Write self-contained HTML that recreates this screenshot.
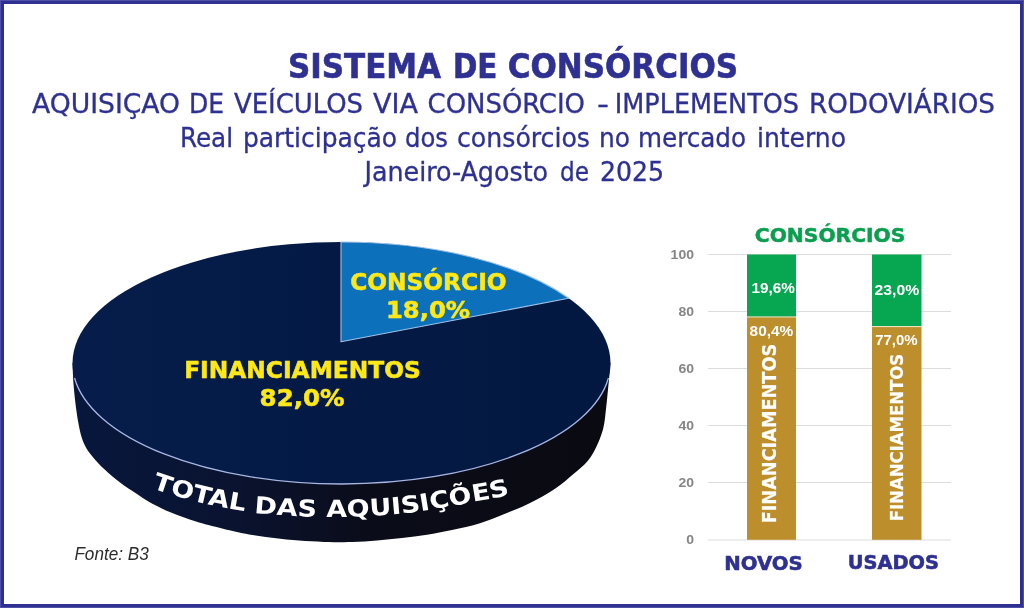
<!DOCTYPE html>
<html lang="pt"><head><meta charset="utf-8"><title>Sistema de Consórcios</title>
<style>
html,body{margin:0;padding:0;background:#fff;}
body{width:1024px;height:608px;overflow:hidden;}
svg{display:block;}
.t{font-family:"DejaVu Sans Condensed","DejaVu Sans","Liberation Sans",sans-serif;fill:#2e3192;}
.tb{font-family:"DejaVu Sans Condensed","DejaVu Sans","Liberation Sans",sans-serif;font-weight:bold;fill:#2e3192;}
.v{font-family:"DejaVu Sans","Liberation Sans",sans-serif;font-weight:bold;}
.y{fill:#ffe818;stroke:#ffe818;stroke-width:0.5px;}
.c{font-family:"Liberation Sans","DejaVu Sans",sans-serif;font-weight:bold;}
</style></head><body>
<svg width="1024" height="608" viewBox="0 0 1024 608">
<defs>
<linearGradient id="sg" x1="72" y1="0" x2="611" y2="0" gradientUnits="userSpaceOnUse">
<stop offset="0" stop-color="#07173d"/><stop offset="0.3" stop-color="#0a1330"/><stop offset="0.55" stop-color="#0a0c19"/><stop offset="1" stop-color="#0a0b11"/>
</linearGradient>
<linearGradient id="tg" x1="72" y1="0" x2="611" y2="0" gradientUnits="userSpaceOnUse">
<stop offset="0" stop-color="#061d4b"/><stop offset="0.5" stop-color="#041a45"/><stop offset="1" stop-color="#031840"/>
</linearGradient>
<path id="tp" d="M120.0 474.0 C123.3 475.5 132.8 480.0 140.0 483.0 C147.2 486.0 153.4 488.8 163.4 492.0 C173.4 495.2 186.4 499.3 200.0 502.5 C213.6 505.7 234.4 509.4 245.2 511.2 C256.1 513.1 255.0 512.9 265.0 513.8 C275.0 514.6 293.9 516.0 305.0 516.5 C316.1 517.0 323.7 517.0 331.5 517.0 C339.3 517.0 345.1 517.0 352.0 516.8 C358.9 516.6 366.1 516.2 372.6 515.8 C379.1 515.4 385.0 515.0 390.8 514.6 C396.5 514.2 401.6 513.7 407.0 513.1 C412.4 512.5 417.6 511.8 423.0 511.0 C428.4 510.2 433.7 509.1 439.5 508.1 C445.3 507.1 451.8 506.1 458.0 505.0 C464.2 503.9 470.8 502.4 477.0 501.2 C483.2 500.1 487.8 499.5 495.0 498.0 C502.2 496.5 512.5 494.0 520.0 492.0 C527.5 490.0 536.7 487.0 540.0 486.0"/>
</defs>
<rect x="0" y="0" width="1024" height="608" fill="#fff"/>
<rect x="2" y="2" width="1020" height="604" fill="none" stroke="#2f2e91" stroke-width="4"/>
<rect x="0.5" y="0.5" width="1023" height="607" fill="none" stroke="#5050aa" stroke-width="1"/>

<!-- titles -->
<text class="tb" y="77.5" font-size="34" stroke="#2e3192" stroke-width="0.6"><tspan x="288" textLength="153" lengthAdjust="spacingAndGlyphs">SISTEMA</tspan> <tspan x="453" textLength="44.4" lengthAdjust="spacingAndGlyphs">DE</tspan> <tspan x="507.8" textLength="230.2" lengthAdjust="spacingAndGlyphs">CONSÓRCIOS</tspan></text>
<text class="t" y="112.5" font-size="26.6" stroke="#2e3192" stroke-width="0.3"><tspan x="32" textLength="148" lengthAdjust="spacingAndGlyphs">AQUISIÇAO</tspan> <tspan x="189" textLength="35" lengthAdjust="spacingAndGlyphs">DE</tspan> <tspan x="234" textLength="129" lengthAdjust="spacingAndGlyphs">VEÍCULOS</tspan> <tspan x="373" textLength="45" lengthAdjust="spacingAndGlyphs">VIA</tspan> <tspan x="427.6" textLength="157.4" lengthAdjust="spacingAndGlyphs">CONSÓRCIO</tspan> <tspan x="597" textLength="12" lengthAdjust="spacingAndGlyphs">-</tspan> <tspan x="614.8" textLength="184.2" lengthAdjust="spacingAndGlyphs">IMPLEMENTOS</tspan> <tspan x="809" textLength="186" lengthAdjust="spacingAndGlyphs">RODOVIÁRIOS</tspan></text>
<text class="t" y="146.7" font-size="26.6" stroke="#2e3192" stroke-width="0.3"><tspan x="180" textLength="53" lengthAdjust="spacingAndGlyphs">Real</tspan> <tspan x="243" textLength="154" lengthAdjust="spacingAndGlyphs">participação</tspan> <tspan x="405" textLength="43" lengthAdjust="spacingAndGlyphs">dos</tspan> <tspan x="457" textLength="133" lengthAdjust="spacingAndGlyphs">consórcios</tspan> <tspan x="599" textLength="31" lengthAdjust="spacingAndGlyphs">no</tspan> <tspan x="638" textLength="108" lengthAdjust="spacingAndGlyphs">mercado</tspan> <tspan x="757" textLength="89" lengthAdjust="spacingAndGlyphs">interno</tspan></text>
<text class="t" y="181.3" font-size="26.6" stroke="#2e3192" stroke-width="0.3"><tspan x="364.5" textLength="183.6" lengthAdjust="spacingAndGlyphs">Janeiro-Agosto</tspan> <tspan x="560" textLength="29" lengthAdjust="spacingAndGlyphs">de</tspan> <tspan x="600" textLength="64" lengthAdjust="spacingAndGlyphs">2025</tspan></text>

<!-- pie -->
<path d="M72.5 363.0 C72.6 365.0 72.8 371.3 73.0 375.0 C73.2 378.7 73.2 380.3 73.6 385.0 C74.0 389.7 74.7 396.9 75.4 403.0 C76.2 409.1 77.0 415.6 78.1 421.4 C79.1 427.2 80.3 433.1 81.7 437.6 C83.1 442.1 84.8 445.5 86.5 448.5 C88.2 451.5 89.9 453.4 91.8 455.8 C93.7 458.2 95.6 460.4 97.8 462.7 C99.9 465.0 102.2 467.3 104.7 469.6 C107.1 471.9 109.7 474.2 112.5 476.5 C115.3 478.8 118.3 481.1 121.4 483.4 C124.5 485.7 127.2 487.5 131.3 490.3 C135.4 493.1 141.5 497.2 146.0 500.0 C150.5 502.8 154.3 504.7 158.5 506.8 C162.7 508.9 166.8 510.9 171.0 512.6 C175.2 514.4 179.3 515.8 183.5 517.3 C187.7 518.8 191.8 520.2 196.0 521.5 C200.2 522.8 203.8 523.8 208.5 525.0 C213.2 526.2 217.2 527.4 224.0 529.0 C230.8 530.6 240.7 532.9 249.0 534.4 C257.3 535.9 265.7 537.1 274.0 538.1 C282.3 539.1 290.7 540.0 299.0 540.6 C307.3 541.2 315.2 541.6 324.0 541.9 C332.8 542.1 343.2 542.3 352.0 542.1 C360.8 541.9 368.7 541.3 377.0 540.6 C385.3 539.9 393.7 539.1 402.0 538.1 C410.3 537.1 418.7 536.1 427.0 534.8 C435.3 533.4 443.2 531.9 452.0 530.0 C460.8 528.1 471.2 526.0 480.0 523.3 C488.8 520.6 496.7 517.1 505.0 513.8 C513.3 510.4 521.7 507.3 530.0 503.1 C538.3 498.9 547.7 493.6 555.0 488.8 C562.3 483.9 568.3 478.4 573.8 473.8 C579.2 469.1 584.0 465.4 587.7 461.0 C591.4 456.6 593.4 452.9 596.0 447.5 C598.6 442.1 601.4 435.3 603.1 428.9 C604.8 422.5 605.2 415.6 606.0 409.0 C606.8 402.4 607.5 394.3 608.0 389.4 C608.5 384.5 608.6 384.0 609.0 379.6 C609.4 375.2 610.2 365.8 610.5 363.0 Z" fill="url(#sg)"/>
<ellipse cx="341.5" cy="363" rx="269" ry="121" fill="url(#tg)"/>
<path d="M74.57 378 A269 121 0 0 0 608.43 378" fill="none" stroke="#a9b6e2" stroke-width="1.3"/>
<path d="M341 341.8 L341.0 242.0 A269 121 0 0 1 568.7 298.2 Z" fill="#0d70bb" stroke="#a5c0e4" stroke-width="1.1" stroke-linejoin="round"/>
<text class="v y" x="350.2" y="290" font-size="22.4" textLength="156.4" lengthAdjust="spacingAndGlyphs">CONSÓRCIO</text>
<text class="v y" x="385.9" y="317.6" font-size="22.4" textLength="84.2" lengthAdjust="spacingAndGlyphs">18,0%</text>
<text class="v y" x="184.2" y="378.3" font-size="22.4" textLength="236.6" lengthAdjust="spacingAndGlyphs">FINANCIAMENTOS</text>
<text class="v y" x="259.6" y="406.3" font-size="22.4" textLength="85" lengthAdjust="spacingAndGlyphs">82,0%</text>
<text class="v" font-size="23.5" fill="#fff" textLength="363" lengthAdjust="spacingAndGlyphs"><textPath href="#tp" startOffset="35">TOTAL DAS AQUISIÇÕES</textPath></text>
<text x="74.4" y="559.75" font-family="'Liberation Sans',sans-serif" font-style="italic" font-size="17.8" fill="#2b2b2b" textLength="74.3" lengthAdjust="spacingAndGlyphs">Fonte: B3</text>

<!-- bar chart -->
<g stroke="#dcdcdc" stroke-width="1">
<line x1="708" x2="951" y1="254.5" y2="254.5"/>
<line x1="708" x2="951" y1="311.5" y2="311.5"/>
<line x1="708" x2="951" y1="368.5" y2="368.5"/>
<line x1="708" x2="951" y1="425.5" y2="425.5"/>
<line x1="708" x2="951" y1="482.5" y2="482.5"/>
<line x1="708" x2="951" y1="540" y2="540"/>
</g>
<g class="c" font-size="13.4" fill="#858585" lengthAdjust="spacingAndGlyphs">
<text x="670.6" y="258.9" textLength="23.4" lengthAdjust="spacingAndGlyphs">100</text>
<text x="678.4" y="315.9" textLength="15.6" lengthAdjust="spacingAndGlyphs">80</text>
<text x="678.4" y="372.9" textLength="15.6" lengthAdjust="spacingAndGlyphs">60</text>
<text x="678.4" y="429.9" textLength="15.6" lengthAdjust="spacingAndGlyphs">40</text>
<text x="678.4" y="486.9" textLength="15.6" lengthAdjust="spacingAndGlyphs">20</text>
<text x="686.2" y="544.4" textLength="7.8" lengthAdjust="spacingAndGlyphs">0</text>
</g>
<text class="v" x="754.8" y="241.8" font-size="19.4" fill="#0a9f4f" stroke="#0a9f4f" stroke-width="0.5" textLength="150.6" lengthAdjust="spacingAndGlyphs">CONSÓRCIOS</text>
<rect x="747" y="254.5" width="49" height="62.5" fill="#07a651"/>
<rect x="747" y="317" width="49" height="222.8" fill="#bd8e2c"/>
<rect x="872" y="254.5" width="49.5" height="72" fill="#07a651"/>
<rect x="872" y="326.5" width="49.5" height="213.3" fill="#bd8e2c"/>
<rect x="747" y="316.4" width="49" height="1.1" fill="#f0e2bf"/>
<rect x="872" y="326" width="49.5" height="1.1" fill="#f0e2bf"/>
<g class="c" font-size="14.5" fill="#fff">
<text x="751.5" y="293.3" textLength="43.3" lengthAdjust="spacingAndGlyphs">19,6%</text>
<text x="749.6" y="336.4" textLength="43.7" lengthAdjust="spacingAndGlyphs">80,4%</text>
<text x="874.6" y="295" textLength="44.7" lengthAdjust="spacingAndGlyphs">23,0%</text>
<text x="875.2" y="344.8" textLength="42.5" lengthAdjust="spacingAndGlyphs">77,0%</text>
</g>
<text class="v" font-size="18.7" fill="#fff" stroke="#fff" stroke-width="0.2" transform="translate(776.3 523.3) rotate(-90)" textLength="179.5" lengthAdjust="spacingAndGlyphs">FINANCIAMENTOS</text>
<text class="v" font-size="17.5" fill="#fff" stroke="#fff" stroke-width="0.2" transform="translate(902.7 521.3) rotate(-90)" textLength="167.5" lengthAdjust="spacingAndGlyphs">FINANCIAMENTOS</text>
<text class="v" x="724.2" y="569.5" font-size="20" fill="#2e3192" stroke="#2e3192" stroke-width="0.6" textLength="78.6" lengthAdjust="spacingAndGlyphs">NOVOS</text>
<text class="v" x="847.8" y="568.75" font-size="20" fill="#2e3192" stroke="#2e3192" stroke-width="0.6" textLength="91.2" lengthAdjust="spacingAndGlyphs">USADOS</text>
</svg>
</body></html>
